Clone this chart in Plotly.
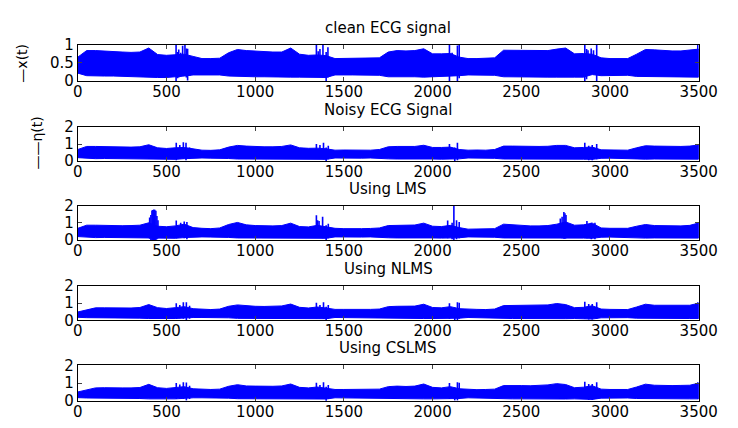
import plotly.graph_objects as go
from plotly.subplots import make_subplots

# ---------------- data ----------------
sample_grid = list(range(0, 3501, 50))

clean_upper = [.66,.84,.84,.82,.81,.80,.79,.80,.91,.73,
               .71,.72,.74,.68,.62,.62,.63,.78,.87,.84,
               .82,.81,.80,.80,.91,.74,.71,.72,.70,.62,
               .62,.62,.62,.62,.64,.80,.84,.83,.84,.89,
               .75,.75,.76,.66,.62,.62,.62,.64,.85,.85,
               .84,.83,.83,.84,.88,.91,.75,.76,.74,.64,
               .62,.62,.62,.74,.87,.86,.84,.83,.83,.85,.88]
clean_lower = [.22,.15,.14,.14,.14,.13,.14,.13,.11,.10,
               .10,.11,.14,.17,.17,.17,.17,.14,.12,.12,
               .12,.12,.12,.12,.11,.11,.11,.11,.10,.17,
               .17,.17,.17,.17,.16,.12,.12,.12,.12,.11,
               .11,.11,.14,.15,.17,.17,.17,.16,.12,.11,
               .11,.11,.11,.11,.11,.10,.11,.11,.18,.15,
               .16,.16,.16,.13,.11,.11,.11,.11,.11,.11,.11]
clean_spike_x  = [554, 562, 569, 580, 591, 604, 612, 619, 632,
                  1345, 1355, 1365, 1382, 1400, 1410,
                  2095, 2110, 2125, 2140, 2150,
                  2858, 2868, 2876, 2894, 2907, 2925, 3495]
clean_spike_hi = [1.03, .80, .87, .78, .97, 1.02, .90, .89, .68,
                  1.0, .82, .88, 1.0, .80, .93,
                  1.0, .78, .72, .98, 1.02,
                  1.0, .88, .85, .90, .85, 1.0, 1.0]
clean_spike_lo = [-.02, .08, .10, .12, .19, .15, .10, .02, .15,
                  .12, .12, .12, .10, -.05, .10,
                  .00, .18, .18, .00, .08,
                  .00, .05, .18, .18, .18, .00, .12]

noisy_upper = [.68,.86,.86,.84,.83,.84,.82,.84,.96,.78,
               .74,.78,.80,.72,.64,.63,.66,.82,.92,.88,
               .85,.84,.84,.86,.95,.78,.75,.76,.72,.64,
               .65,.64,.65,.64,.68,.84,.86,.84,.86,.93,
               .80,.80,.82,.68,.64,.65,.64,.68,.88,.88,
               .86,.85,.86,.87,.92,.92,.78,.80,.82,.66,
               .64,.65,.64,.78,.90,.88,.86,.86,.86,.88,.95]
noisy_lower = [.20,.15,.14,.15,.13,.14,.13,.14,.11,.10,
               .11,.10,.14,.18,.18,.17,.18,.15,.12,.13,
               .12,.13,.12,.12,.11,.12,.11,.10,.10,.18,
               .17,.18,.17,.18,.16,.13,.12,.13,.12,.11,
               .12,.11,.11,.13,.18,.17,.18,.16,.12,.11,
               .12,.11,.12,.11,.11,.10,.11,.11,.10,.16,
               .17,.16,.17,.13,.11,.12,.11,.12,.11,.12,.11]
noisy_spike_x  = [555, 575, 595, 610, 630, 1345, 1365, 1385, 1400, 1412,
                  2095, 2125, 2140, 2858, 2880, 2900, 2925, 3495]
noisy_spike_hi = [1.07, .95, 1.10, 1.08, .80, 1.0, .95, 1.08, .80, .90,
                  1.0, .80, 1.07, 1.07, .90, .95, 1.0, 1.0]
noisy_spike_lo = [.05, .12, .15, .05, .12, .15, .12, .10, -.05, .10,
                  .12, -.05, .05, .10, .05, .05, .10, .12]

lms_upper = [.68,.86,.86,.84,.84,.83,.84,.86,1.00,.80,
             .77,.82,.92,.72,.68,.66,.70,.90,1.02,.88,
             .84,.82,.82,.84,.98,.78,.76,.85,.75,.68,
             .66,.68,.66,.67,.70,.84,.86,.85,.87,.98,
             .80,.78,.85,.72,.63,.64,.63,.66,.92,.88,
             .84,.82,.82,.84,.92,1.05,.86,.88,.98,.70,
             .68,.67,.68,.80,.90,.84,.82,.82,.82,.85,.99]
lms_lower = [.20,.15,.14,.15,.13,.14,.13,.14,.09,.08,
             .11,.10,.14,.18,.18,.17,.18,.15,.12,.13,
             .12,.13,.12,.12,.11,.12,.11,.10,.10,.18,
             .17,.18,.17,.18,.16,.13,.12,.13,.12,.11,
             .12,.11,.11,.13,.18,.17,.18,.16,.12,.11,
             .12,.11,.12,.11,.11,.10,.11,.11,.10,.16,
             .17,.16,.17,.13,.11,.12,.11,.12,.11,.12,.11]
lms_spike_x  = [405, 412, 418, 423, 428, 434, 440, 446, 452,
                555, 580, 600, 615,
                1345, 1352, 1360, 1380, 1400, 1412,
                2085, 2110, 2120, 2135, 2150,
                2720, 2730, 2740, 2746, 2752, 2870, 2895, 2915, 3495]
lms_spike_hi = [1.30, 1.45, 1.72, 1.74, 1.77, 1.76, 1.70, 1.40, 1.15,
                1.13, 1.00, 1.07, 1.05,
                1.44, 1.15, 1.10, 1.35, .85, .95,
                1.13, 1.0, 2.0, 1.15, 1.05,
                1.25, 1.35, 1.62, 1.55, 1.45, 1.10, 1.0, 1.0, 1.02]
lms_spike_lo = [.08, .00, -.05, -.08, -.10, -.08, -.05, .05, .10,
                .10, .15, .10, .05,
                .12, .12, .15, .10, -.05, .10,
                .10, .05, -.10, .05, .10,
                .12, .10, .08, .08, .10, .10, .05, .05, .12]

nlms_upper = [.49,.62,.73,.73,.72,.73,.72,.75,.92,.74,
              .69,.74,.80,.68,.64,.63,.66,.82,.90,.84,
              .82,.81,.81,.84,.95,.76,.72,.78,.72,.64,
              .64,.63,.64,.64,.66,.80,.82,.81,.83,.94,
              .75,.73,.80,.68,.64,.64,.63,.66,.86,.87,
              .86,.85,.86,.90,.98,.92,.74,.76,.85,.66,
              .64,.64,.63,.78,.94,.88,.87,.86,.86,.88,1.00]
nlms_lower = [.18,.16,.13,.13,.13,.13,.13,.13,.11,.10,
              .11,.11,.13,.17,.17,.17,.17,.15,.12,.12,
              .12,.12,.12,.12,.11,.11,.11,.10,.10,.17,
              .17,.17,.17,.17,.16,.13,.12,.12,.12,.11,
              .11,.11,.11,.13,.17,.17,.17,.16,.12,.11,
              .11,.11,.11,.11,.11,.10,.11,.11,.08,.15,
              .16,.16,.16,.13,.11,.11,.11,.11,.11,.11,.11]
nlms_spike_x  = [555, 575, 595, 612, 630, 1345, 1365, 1385, 1400, 1412,
                 2095, 2125, 2140, 2150, 2858, 2880, 2900, 2925, 3495]
nlms_spike_hi = [1.0, .90, 1.05, 1.05, .85, 1.02, .90, 1.05, .80, .90,
                 1.0, .75, 1.05, 1.02, 1.09, .95, .95, 1.05, 1.05]
nlms_spike_lo = [.10, .12, .10, .02, .10, .12, .12, .10, -.05, .10,
                 .10, .02, .02, .10, .10, .05, .05, .10, .12]

cslms_upper = [.50,.63,.73,.74,.72,.73,.73,.75,.93,.74,
               .70,.74,.80,.68,.64,.64,.66,.82,.91,.84,
               .83,.81,.82,.84,.95,.76,.73,.78,.72,.64,
               .64,.64,.64,.63,.66,.80,.83,.81,.83,.95,
               .76,.73,.80,.68,.64,.63,.64,.66,.86,.88,
               .86,.85,.86,.90,.97,.92,.74,.77,.85,.66,
               .64,.63,.64,.78,.94,.88,.86,.86,.87,.88,1.00]
cslms_lower = [.18,.16,.13,.13,.13,.13,.13,.13,.11,.10,
               .11,.11,.13,.17,.17,.17,.17,.15,.12,.12,
               .12,.12,.12,.12,.11,.11,.11,.10,.10,.17,
               .17,.17,.17,.17,.16,.13,.12,.12,.12,.11,
               .11,.11,.11,.13,.17,.17,.17,.16,.12,.11,
               .11,.11,.11,.11,.11,.10,.11,.11,.08,.15,
               .16,.16,.16,.13,.11,.11,.11,.11,.11,.11,.11]
cslms_spike_x  = [555, 575, 595, 612, 630, 1345, 1365, 1385, 1400, 1412,
                  2095, 2125, 2140, 2150, 2858, 2880, 2900, 2925, 3495]
cslms_spike_hi = [1.0, .92, 1.05, 1.04, .85, 1.02, .90, 1.05, .80, .90,
                  1.0, .75, 1.05, 1.02, 1.08, .95, .95, 1.05, 1.05]
cslms_spike_lo = [.10, .12, .10, .02, .10, .12, .12, .10, -.05, .10,
                  .10, .02, .02, .10, .10, .05, .05, .10, .12]

panel_titles = ["clean ECG signal", "Noisy ECG Signal", "Using LMS",
                "Using NLMS", "Using CSLMS"]
x_ticks = [0, 500, 1000, 1500, 2000, 2500, 3000, 3500]
y_ticks_clean = [0, 0.5, 1]
y_ticks_other = [0, 1, 2]

panels = [
    (clean_upper, clean_lower, clean_spike_x, clean_spike_hi, clean_spike_lo),
    (noisy_upper, noisy_lower, noisy_spike_x, noisy_spike_hi, noisy_spike_lo),
    (lms_upper, lms_lower, lms_spike_x, lms_spike_hi, lms_spike_lo),
    (nlms_upper, nlms_lower, nlms_spike_x, nlms_spike_hi, nlms_spike_lo),
    (cslms_upper, cslms_lower, cslms_spike_x, cslms_spike_hi, cslms_spike_lo),
]

# ---------------- figure ----------------
WIN_W, WIN_H = 738, 428
OFF = 8                      # page body margin of the browser
W, H = WIN_W - OFF, WIN_H - OFF
BLUE = "#0000FF"
FONT = "DejaVu Sans"


def px(p):
    return (p - OFF) / W


def py(p):
    return 1 - (p - OFF) / H


fig = make_subplots(rows=5, cols=1)

# panel pixel boxes in window coordinates (top, bottom)
boxes = [(37, 75), (123, 158.5), (205, 241), (289, 325), (372, 409)]
x_left, x_right = 75, 717

for i, (up, lo, sx, shi, slo) in enumerate(panels):
    r = i + 1
    band_x = sample_grid + sample_grid[::-1]
    band_y = up + lo[::-1]
    fig.add_trace(go.Scatter(x=band_x, y=band_y, fill="toself", fillcolor=BLUE,
                             line=dict(color=BLUE, width=1), mode="lines",
                             hoverinfo="skip", showlegend=False), row=r, col=1)
    vx, vy = [], []
    for xx, h, l in zip(sx, shi, slo):
        vx += [xx, xx, None]
        vy += [l, h, None]
    fig.add_trace(go.Scatter(x=vx, y=vy, mode="lines",
                             line=dict(color=BLUE, width=1.6),
                             hoverinfo="skip", showlegend=False), row=r, col=1)

    top, bot = boxes[i]
    ydom = [py(bot), py(top)]
    xname = "xaxis" if r == 1 else f"xaxis{r}"
    yname = "yaxis" if r == 1 else f"yaxis{r}"
    fig.layout[xname].update(domain=[px(x_left), px(x_right)], range=[0, 3500],
                             tickvals=x_ticks, ticks="inside", ticklen=4,
                             ticklabelstandoff=-3,
                             showline=True, linecolor="black", linewidth=1,
                             mirror="ticks", showgrid=False, zeroline=False,
                             tickfont=dict(family=FONT, size=15, color="black"))
    if i == 0:
        yr, yt, ytxt = [0, 1], y_ticks_clean, ["0", "0.5", "1"]
    else:
        yr, yt, ytxt = [0, 2], y_ticks_other, ["0", "1", "2"]
    fig.layout[yname].update(domain=ydom, range=yr, tickvals=yt, ticktext=ytxt,
                             ticks="inside", ticklen=4, showline=True,
                             linecolor="black", linewidth=1, mirror="ticks",
                             showgrid=False, zeroline=False,
                             tickfont=dict(family=FONT, size=15, color="black"))
    fig.add_annotation(text=panel_titles[i], xref="paper", yref="paper",
                       x=px((x_left + x_right) / 2), y=ydom[1],
                       xanchor="center", yanchor="middle", yshift=17,
                       showarrow=False,
                       font=dict(family=FONT, size=15, color="black"))

fig.add_annotation(text="—x(t)", xref="paper", yref="paper",
                   x=px(17), y=py(56), textangle=-90, showarrow=False,
                   xanchor="center", yanchor="middle",
                   font=dict(family=FONT, size=14, color="black"))
fig.add_annotation(text="——η(t)", xref="paper", yref="paper",
                   x=px(33), y=py(140), textangle=-90, showarrow=False,
                   xanchor="center", yanchor="middle",
                   font=dict(family=FONT, size=14, color="black"))

fig.update_layout(width=W, height=H, margin=dict(l=0, r=0, t=0, b=0),
                  paper_bgcolor="white", plot_bgcolor="white",
                  showlegend=False)

fig.write_html("out.html")
